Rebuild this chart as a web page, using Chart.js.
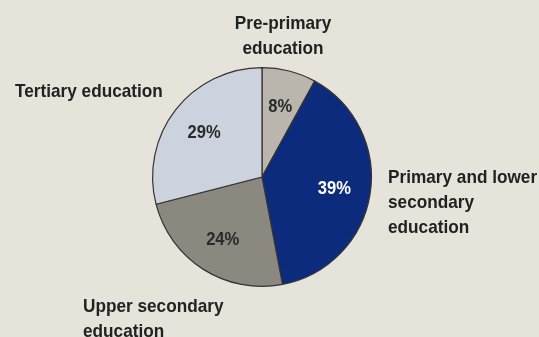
<!DOCTYPE html>
<html>
<head>
<meta charset="utf-8">
<script src="https://cdn.jsdelivr.net/npm/chart.js@4.4.1/dist/chart.umd.min.js"></script>
<style>
  html, body { margin: 0; padding: 0; background: #e6e3da; }
  #wrap { position: relative; width: 539px; height: 337px; }
</style>
</head>
<body>
<div id="wrap"><canvas id="pie" width="539" height="337"></canvas></div>
<script>
// Share of spending by level of education (%)
const categories = [
  "Pre-primary education",
  "Primary and lower secondary education",
  "Upper secondary education",
  "Tertiary education"
];
const shares = [8, 39, 24, 29];

// How each category name is broken into lines next to the pie
const categoryLines = [
  ["Pre-primary", "education"],
  ["Primary and lower", "secondary", "education"],
  ["Upper secondary", "education"],
  ["Tertiary education"]
];

const sliceColors = ["#bab6ad", "#0c2b7c", "#8b8880", "#cdd3de"];
const percentColors = ["#2a2a2a", "#ffffff", "#2a2a2a", "#2a2a2a"];

// where the category names sit: [x, first baseline, align]
const namePlacement = [
  [283, 29, "center"],
  [388, 183, "left"],
  [83, 312, "left"],
  [15, 97, "left"]
];

const FONT = "Liberation Sans, Arial, Helvetica, sans-serif";

// narrow bold type: draw with a horizontal squeeze
function squeezedText(ctx, text, x, y, sx) {
  ctx.save();
  ctx.translate(x, y);
  ctx.scale(sx, 1);
  ctx.fillText(text, 0, 0);
  ctx.restore();
}

const labelPlugin = {
  id: "sliceLabels",
  afterDatasetsDraw(chart) {
    const ctx = chart.ctx;
    const meta = chart.getDatasetMeta(0);
    ctx.save();
    ctx.textBaseline = "middle";
    ctx.textAlign = "center";
    ctx.font = "bold 18px " + FONT;
    meta.data.forEach((arc, i) => {
      const mid = (arc.startAngle + arc.endAngle) / 2;
      const r = arc.outerRadius * 0.67;
      ctx.fillStyle = percentColors[i];
      squeezedText(ctx, shares[i] + "%", arc.x + Math.cos(mid) * r, arc.y + Math.sin(mid) * r + 1, 0.92);
    });

    // category names around the pie
    ctx.textBaseline = "alphabetic";
    ctx.fillStyle = "#222222";
    ctx.font = "bold 19px " + FONT;
    categoryLines.forEach((lines, i) => {
      const [x, y, align] = namePlacement[i];
      ctx.textAlign = align;
      lines.forEach((line, j) => squeezedText(ctx, line, x, y + j * 25, 0.905));
    });
    ctx.restore();
  }
};

new Chart(document.getElementById("pie"), {
  type: "pie",
  data: {
    labels: categories,
    datasets: [{
      data: shares,
      backgroundColor: sliceColors,
      borderColor: "#333333",
      borderWidth: 1.2
    }]
  },
  options: {
    responsive: false,
    animation: false,
    events: [],
    layout: { padding: { left: 152, right: 167, top: 67, bottom: 50 } },
    plugins: {
      legend: { display: false },
      tooltip: { enabled: false }
    }
  },
  plugins: [labelPlugin]
});
</script>
</body>
</html>
